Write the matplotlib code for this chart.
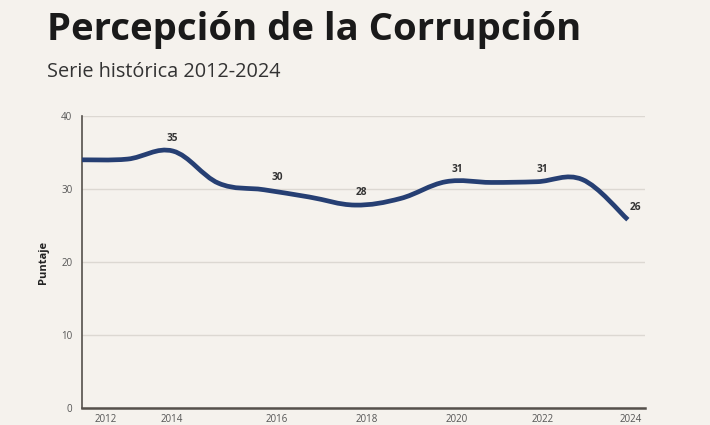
import numpy as np
import matplotlib.pyplot as plt
from matplotlib.path import Path
from matplotlib.patches import PathPatch

# Corruption perception index, annual score
years = [2012, 2013, 2014, 2015, 2016, 2017, 2018, 2019, 2020, 2021, 2022, 2023, 2024]
scores = [34.0, 34.1, 35.2, 30.8, 29.9, 28.9, 27.8, 28.7, 31.0, 30.9, 31.0, 31.3, 25.8]

# Years that carry a value label, and the label text
label_years = [2014, 2016, 2018, 2020, 2022, 2024]
label_texts = ['35', '30', '28', '31', '31', '26']

# X tick labels (the source places them slightly off the year positions)
tick_labels = ['2012', '2014', '2016', '2018', '2020', '2022', '2024']
tick_pos = [2012.53, 2013.98, 2016.29, 2018.26, 2020.24, 2022.13, 2024.07]

bg = '#f5f2ed'
navy = '#263f73'
grey = '#55504b'

plt.rcParams['font.family'] = ['Open Sans', 'DejaVu Sans']


def smooth_path(x, y, t=0.18):
    # cubic bezier through every point (catmull-rom style handles)
    x = np.asarray(x, float)
    y = np.asarray(y, float)
    verts = [(x[0], y[0])]
    codes = [Path.MOVETO]
    for i in range(len(x) - 1):
        i0 = max(i - 1, 0)
        i3 = min(i + 2, len(x) - 1)
        c1 = (x[i] + (x[i + 1] - x[i0]) * t, y[i] + (y[i + 1] - y[i0]) * t)
        c2 = (x[i + 1] - (x[i3] - x[i]) * t, y[i + 1] - (y[i3] - y[i]) * t)
        verts += [c1, c2, (x[i + 1], y[i + 1])]
        codes += [Path.CURVE4] * 3
    return Path(verts, codes)


fig = plt.figure(figsize=(7.1, 4.25), dpi=100, facecolor=bg)
ax = fig.add_axes([0.1155, 0.04, 0.7925, 0.687], facecolor=bg)

ax.add_patch(PathPatch(smooth_path(years, scores), facecolor='none',
                       edgecolor=navy, linewidth=3.4, joinstyle='round',
                       capstyle='butt', zorder=3))

# Value labels above selected points
for yr, txt, xp in zip(label_years, label_texts, tick_pos[1:]):
    val = scores[years.index(yr)]
    dx = 3 if yr == 2024 else (-4 if yr == 2018 else 0)
    ax.annotate(txt, (xp, val), xytext=(dx, 9), textcoords='offset points',
                ha='center', va='center', fontsize=7.3, fontweight='bold',
                color='#333333')

ax.set_xlim(2012, 2024.37)
ax.set_ylim(0, 40)
ax.set_yticks([0, 10, 20, 30, 40])
ax.set_xticks(tick_pos)
ax.set_xticklabels(tick_labels)
ax.tick_params(axis='both', length=0, labelsize=7, colors='#555555')
ax.tick_params(axis='x', pad=4)
ax.tick_params(axis='y', pad=7)

ax.grid(axis='y', color='#dcd8d2', linewidth=1)
ax.set_axisbelow(True)
for side in ['top', 'right']:
    ax.spines[side].set_visible(False)
ax.spines['left'].set_color(grey)
ax.spines['left'].set_linewidth(1.2)
ax.spines['bottom'].set_color(grey)
ax.spines['bottom'].set_linewidth(1.8)

ax.set_ylabel('Puntaje', fontsize=8, fontweight='bold', color='#222222', labelpad=9)

fig.text(0.066, 0.885, 'Percepción de la Corrupción', fontsize=27.5,
         fontweight='bold', color='#1a1a1a', ha='left', va='bottom')
fig.text(0.066, 0.808, 'Serie histórica 2012-2024', fontsize=14.3,
         color='#333333', ha='left', va='bottom')

fig.savefig('out.png', dpi=100, facecolor=bg)
